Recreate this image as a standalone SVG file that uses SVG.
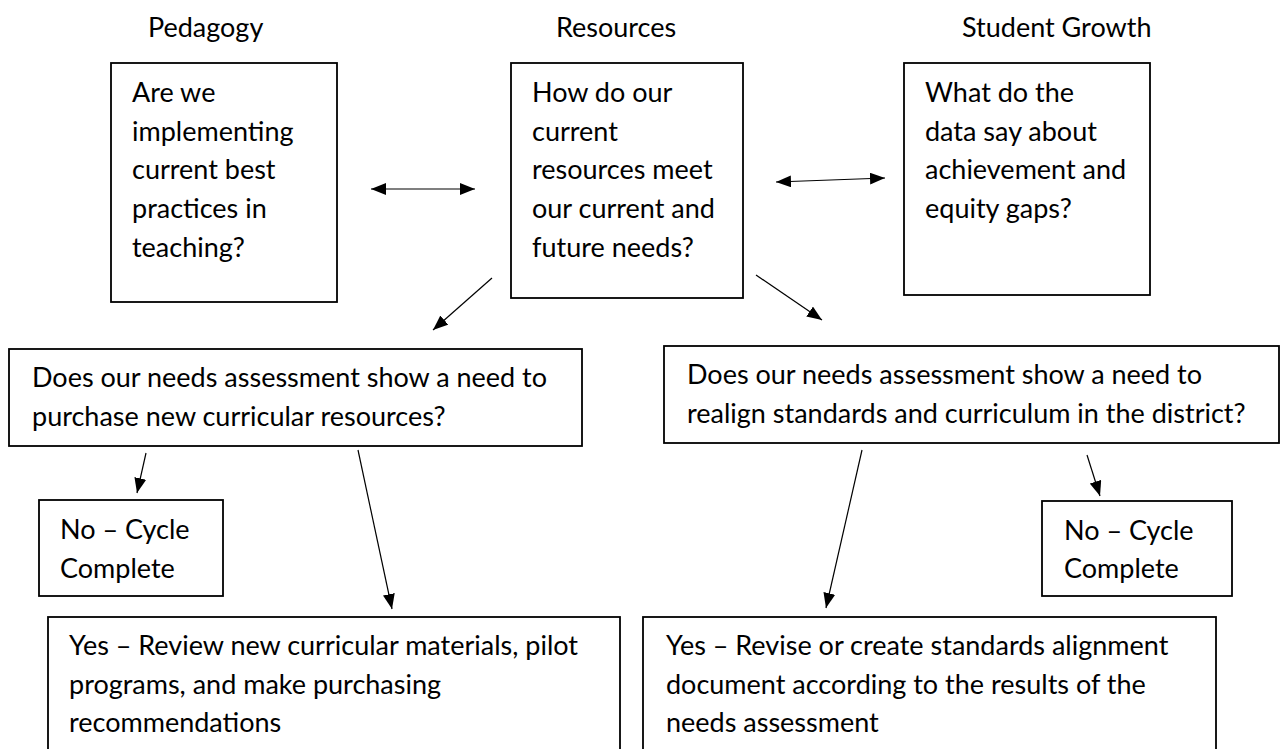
<svg xmlns="http://www.w3.org/2000/svg" width="1281" height="749" viewBox="0 0 1281 749">
<defs>
<marker id="ah" markerWidth="15" markerHeight="12" refX="15" refY="6" orient="auto-start-reverse" markerUnits="userSpaceOnUse">
<path d="M0,0 L15,6 L0,12 Z" fill="#000"/>
</marker>
<style>
.box{fill:#fff;stroke:#000;stroke-width:1.8}
.t{font-family:Lato,"Liberation Sans",sans-serif;font-size:27px;fill:#000}
.c{stroke:#000;stroke-width:1.2;fill:none;marker-end:url(#ah)}
.d{marker-start:url(#ah)}
</style>
</defs>
<rect width="1281" height="749" fill="#fff"/>
<g id="headers">
<text class="t" x="148" y="37">Pedagogy</text>
<text class="t" x="556" y="37">Resources</text>
<text class="t" x="962" y="37">Student Growth</text>
</g>
<g id="pedagogy">
<rect class="box" x="111" y="63" width="226" height="239"/>
<text class="t" x="132" y="102">Are we</text>
<text class="t" x="132" y="141">implementing</text>
<text class="t" x="132" y="179">current best</text>
<text class="t" x="132" y="218">practices in</text>
<text class="t" x="132" y="257">teaching?</text>
</g>
<g id="resources">
<rect class="box" x="511" y="63" width="232" height="235"/>
<text class="t" x="532" y="102">How do our</text>
<text class="t" x="532" y="141">current</text>
<text class="t" x="532" y="179">resources meet</text>
<text class="t" x="532" y="218">our current and</text>
<text class="t" x="532" y="257">future needs?</text>
</g>
<g id="student-growth">
<rect class="box" x="904" y="63" width="246" height="232"/>
<text class="t" x="925" y="102">What do the</text>
<text class="t" x="925" y="141">data say about</text>
<text class="t" x="925" y="179">achievement and</text>
<text class="t" x="925" y="218">equity gaps?</text>
</g>
<g id="purchase-question">
<rect class="box" x="9" y="349" width="573" height="97"/>
<text class="t" x="32" y="387">Does our needs assessment show a need to</text>
<text class="t" x="32" y="426">purchase new curricular resources?</text>
</g>
<g id="realign-question">
<rect class="box" x="664" y="346" width="615" height="97"/>
<text class="t" x="687" y="384">Does our needs assessment show a need to</text>
<text class="t" x="687" y="423">realign standards and curriculum in the district?</text>
</g>
<g id="no-left">
<rect class="box" x="39" y="500" width="184" height="96"/>
<text class="t" x="60" y="539">No – Cycle</text>
<text class="t" x="60" y="578">Complete</text>
</g>
<g id="no-right">
<rect class="box" x="1042" y="501" width="190" height="95"/>
<text class="t" x="1064" y="540">No – Cycle</text>
<text class="t" x="1064" y="578">Complete</text>
</g>
<g id="yes-left">
<rect class="box" x="48" y="617" width="572" height="150"/>
<text class="t" x="69" y="655">Yes – Review new curricular materials, pilot</text>
<text class="t" x="69" y="694">programs, and make purchasing</text>
<text class="t" x="69" y="732">recommendations</text>
</g>
<g id="yes-right">
<rect class="box" x="643" y="617" width="573" height="150"/>
<text class="t" x="666" y="655">Yes – Revise or create standards alignment</text>
<text class="t" x="666" y="694">document according to the results of the</text>
<text class="t" x="666" y="732">needs assessment</text>
</g>
<g id="connectors">
<line class="c d" x1="371" y1="189" x2="475" y2="189"/>
<line class="c d" x1="776" y1="182" x2="885" y2="178"/>
<line class="c" x1="492" y1="278" x2="433" y2="330"/>
<line class="c" x1="756" y1="275" x2="822" y2="320"/>
<line class="c" x1="146" y1="453" x2="137" y2="493"/>
<line class="c" x1="358" y1="450" x2="392" y2="609"/>
<line class="c" x1="862" y1="450" x2="826" y2="608"/>
<line class="c" x1="1087" y1="455" x2="1100" y2="496"/>
</g>
</svg>
